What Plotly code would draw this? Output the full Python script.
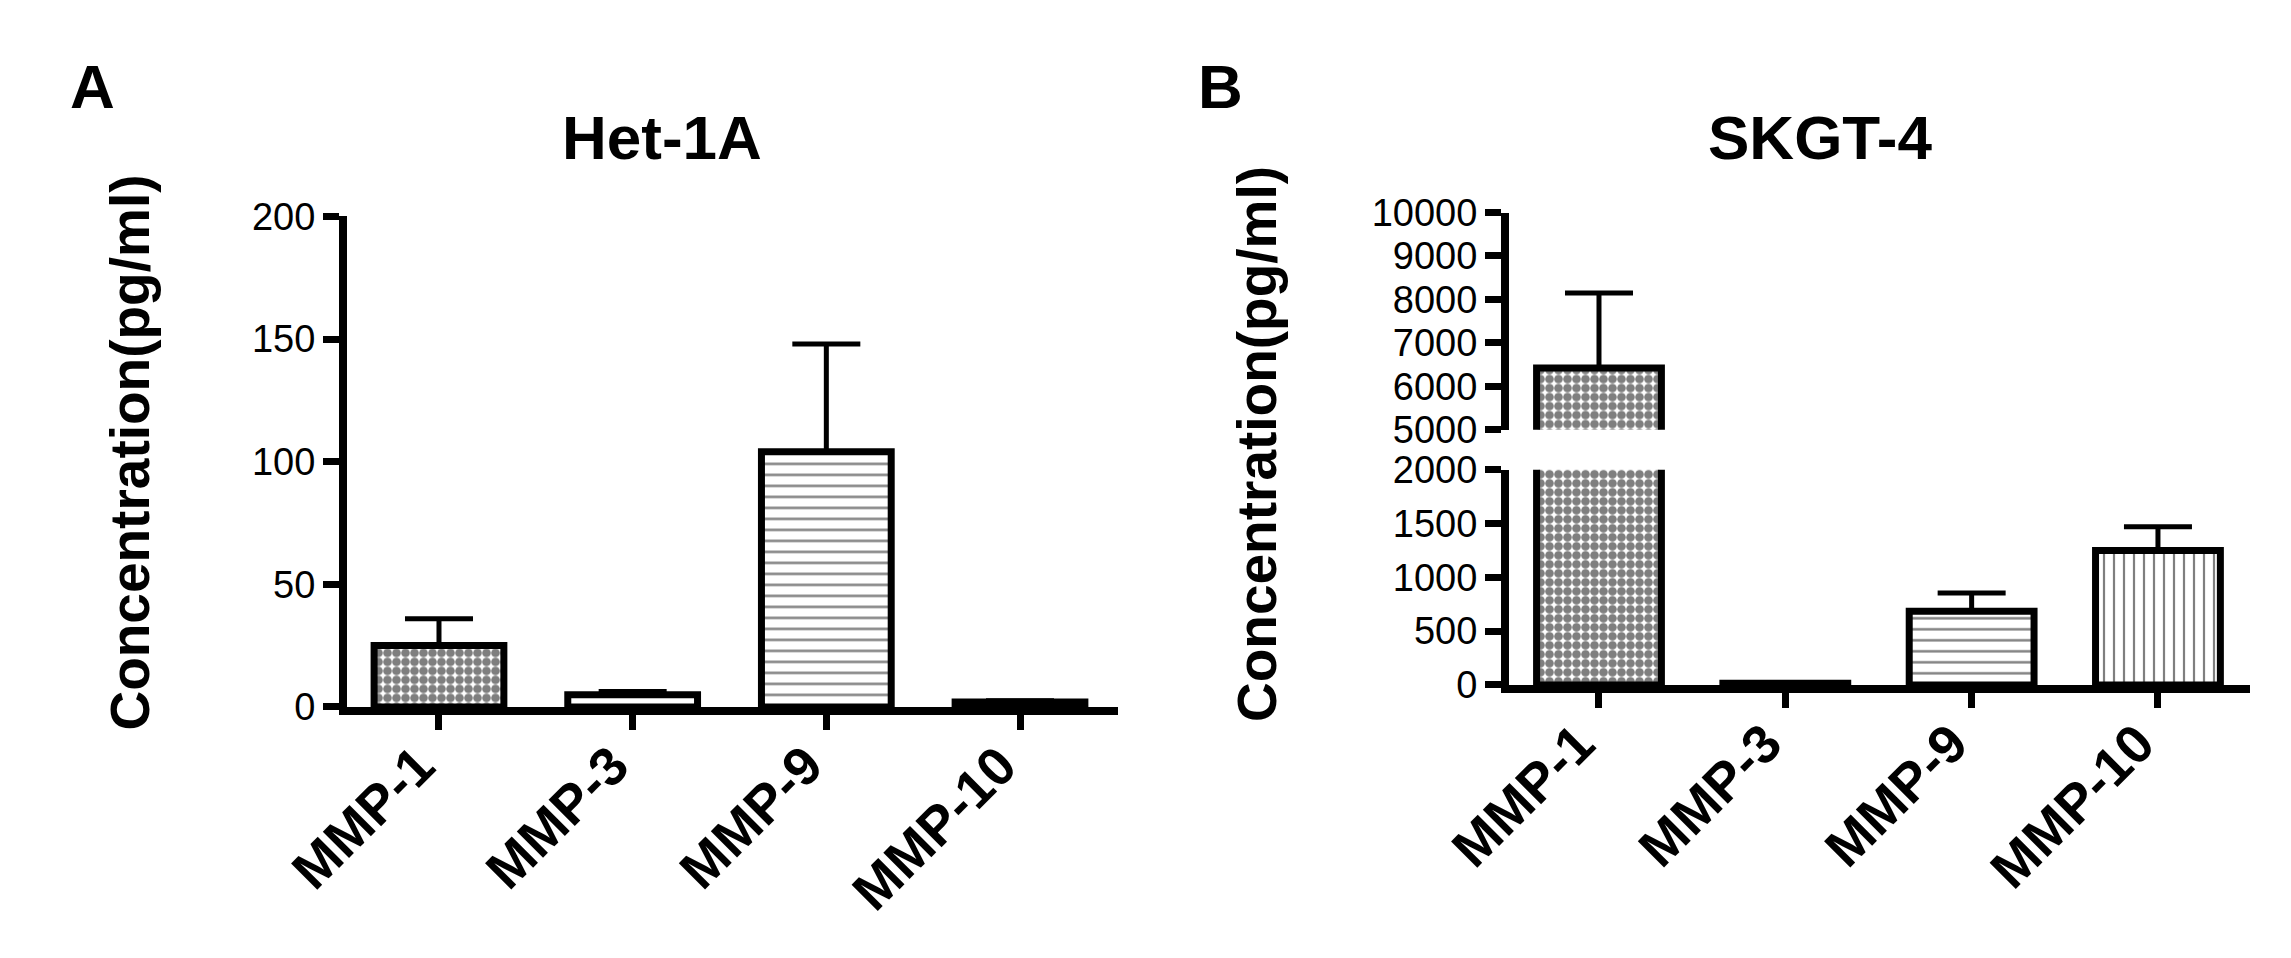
import plotly.graph_objects as go

# data (pg/ml, mean + SEM)
categories = ["MMP-1", "MMP-3", "MMP-9", "MMP-10"]
het_mean = [25, 5, 104, 2]
het_err = [11, 1.3, 44, 0.5]
skgt_mean = [6420, 15, 685, 1250]
skgt_err = [1730, 5, 170, 220]

het_ticks = [0, 50, 100, 150, 200]
skgt_low_ticks = [0, 500, 1000, 1500, 2000]
skgt_high_ticks = [5000, 6000, 7000, 8000, 9000, 10000]

pattern_shapes = [".", "-", "-", "|"]
pattern_sizes = [9, 11, 11, 10]
pattern_solid = [0.72, 0.22, 0.22, 0.22]

W, H = 2291, 958
FONT = "Liberation Sans, Arial, sans-serif"


def fx(px):
    return px / W


def fy(py):
    return 1 - py / H


def bars(y, err, xa, ya):
    return go.Bar(
        x=categories, y=y, xaxis=xa, yaxis=ya, width=0.67,
        marker=dict(color="white", line=dict(color="black", width=7),
                    pattern=dict(shape=pattern_shapes, size=pattern_sizes,
                                 solidity=pattern_solid, fgcolor="black")),
        error_y=dict(type="data", array=err, arrayminus=[0] * len(err),
                     symmetric=False, color="black", thickness=5, width=34),
        showlegend=False, hoverinfo="x+y")


fig = go.Figure()
fig.add_trace(bars(het_mean, het_err, "x", "y"))
fig.add_trace(bars(skgt_mean, skgt_err, "x2", "y2"))
fig.add_trace(bars(skgt_mean, skgt_err, "x2", "y3"))

axis_common = dict(showline=True, linewidth=8, linecolor="black", showgrid=False,
                   zeroline=False, ticks="outside", tickwidth=7, tickcolor="black")
yfont = dict(family=FONT, size=38, color="black")

fig.update_layout(
    width=W, height=H, margin=dict(l=0, r=0, t=0, b=0),
    paper_bgcolor="white", plot_bgcolor="white",
    xaxis=dict(axis_common, domain=[fx(339), fx(1110)], range=[-0.475, 3.506],
               anchor="y", ticklen=15, showticklabels=False),
    yaxis=dict(axis_common, domain=[fy(709), fy(196)], range=[0, 200],
               anchor="x", tickvals=het_ticks, ticklen=16, tickfont=yfont),
    xaxis2=dict(axis_common, domain=[fx(1501), fx(2242)], range=[-0.483, 3.494],
                anchor="y2", ticklen=15, showticklabels=False),
    yaxis2=dict(axis_common, domain=[fy(686), fy(461)], range=[0, 2000],
                anchor="x2", tickvals=skgt_low_ticks, ticklen=16, tickfont=yfont),
    yaxis3=dict(axis_common, domain=[fy(419), fy(192)], range=[5000, 10000],
                anchor="x2", tickvals=skgt_high_ticks,
                ticktext=[str(v) for v in skgt_high_ticks], ticklen=16, tickfont=yfont),
)

# rotated category labels, top-right corner just under each tick
for xref, ytop in (("x", 735), ("x2", 712)):
    for cat in categories:
        fig.add_annotation(text=cat, x=cat, y=fy(ytop), xref=xref, yref="paper",
                           showarrow=False, textangle=-45, xanchor="right", yanchor="top",
                           xshift=10,
                           font=dict(family=FONT, size=54, color="black", weight="bold"))

texts = [
    ("A", 84, 60, 62, 0),
    ("B", 1213, 60, 62, 0),
    ("Het-1A", 654, 113, 62, 0),
    ("SKGT-4", 1812, 113, 62, 0),
    ("Concentration(pg/ml)", 122, 443, 55, -90),
    ("Concentration(pg/ml)", 1249, 434, 55, -90),
]
for txt, x, y, size, ang in texts:
    fig.add_annotation(text=txt, x=fx(x), y=fy(y), xref="paper", yref="paper",
                       showarrow=False, textangle=ang, xanchor="center", yanchor="middle",
                       font=dict(family=FONT, size=size, color="black", weight="bold"))

fig.write_html("out.html")
